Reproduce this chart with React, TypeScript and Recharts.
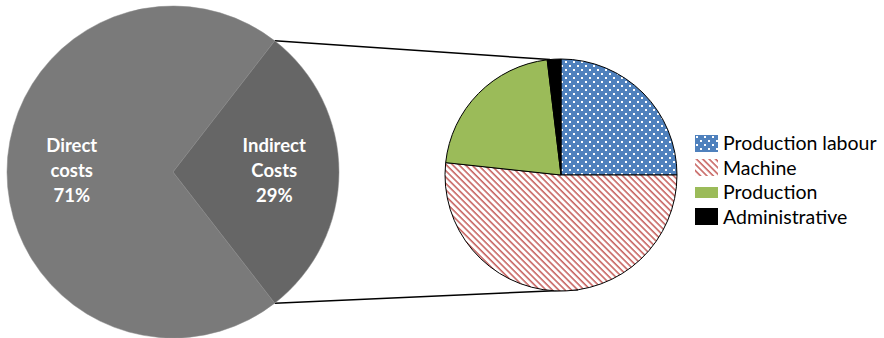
import { PieChart, Pie, Cell, Legend, Customized } from "recharts";

const mainNames = ["Direct costs", "Indirect Costs"];
const mainShares = [71, 29];
const splitNames = ["Production labour", "Machine", "Production", "Administrative"];
const splitShares = [25, 51.7, 21.4, 1.9];

const MAIN = { cx: 173, cy: 172, r: 166 };
const SPLIT = { cx: 561, cy: 175, r: 116 };
const RAD = Math.PI / 180;

const mainData = mainNames.map((name, i) => ({ name, value: mainShares[i] }));
const splitData = splitNames.map((name, i) => ({ name, value: splitShares[i] }));

const mainFills = ["#7a7a7a", "#666666"];
const splitFills = ["url(#dotFill)", "url(#hatchFill)", "#9bbb59", "#000000"];

// the indirect slice sits centred on the right side of the main pie
const halfIndirect = (mainShares[1] / 100) * 180;

function polar(c: { cx: number; cy: number; r: number }, deg: number) {
  return { x: c.cx + c.r * Math.cos(-deg * RAD), y: c.cy + c.r * Math.sin(-deg * RAD) };
}

function SeriesLines() {
  const a1 = polar(MAIN, halfIndirect);
  const a2 = polar(MAIN, -halfIndirect);
  const b1 = polar(SPLIT, 95.5);
  const b2 = polar(SPLIT, -81.5);
  return (
    <g stroke="#000" strokeWidth={1.5}>
      <line x1={a1.x} y1={a1.y} x2={b1.x} y2={b1.y} />
      <line x1={a2.x} y1={a2.y} x2={b2.x} y2={b2.y} />
    </g>
  );
}

function renderMainLabel(props: any) {
  const { cx, cy, midAngle, outerRadius, name, value } = props;
  const x = cx + outerRadius * 0.61 * Math.cos(-midAngle * RAD);
  const y = cy - 2 + outerRadius * 0.61 * Math.sin(-midAngle * RAD);
  const lines = [...String(name).split(" "), `${value}%`];
  return (
    <text
      x={x}
      y={y}
      fill="#fff"
      fontFamily="Lato, sans-serif"
      fontWeight={700}
      fontSize={18.5}
      textAnchor="middle"
    >
      {lines.map((t, i) => (
        <tspan key={i} x={x} y={y + (i - 1) * 25} dominantBaseline="central">
          {t}
        </tspan>
      ))}
    </text>
  );
}

function LegendBox() {
  return (
    <div style={{ fontFamily: "Lato, sans-serif", fontSize: 19.5, color: "#000" }}>
      {splitNames.map((name, i) => (
        <div key={name} style={{ display: "flex", alignItems: "center", height: 24.5 }}>
          <svg width={23} height={17} style={{ marginRight: 5 }}>
            <rect
              x={0}
              y={i === 2 ? 3 : 0}
              width={23}
              height={i === 2 ? 11 : 17}
              fill={splitFills[i]}
            />
          </svg>
          <span style={{ lineHeight: "24px" }}>{name}</span>
        </div>
      ))}
    </div>
  );
}

export default function App() {
  return (
    <div style={{ position: "absolute", left: 0, top: 0, width: 884, height: 338, background: "#fff" }}>
      <PieChart width={884} height={338} margin={{ top: 0, right: 0, bottom: 0, left: 0 }}>
        <defs>
          <pattern id="dotFill" width={8} height={8} patternUnits="userSpaceOnUse">
            <rect width={8} height={8} fill="#4f81bd" />
            <rect x={1} y={1} width={2} height={2} fill="#fff" />
            <rect x={5} y={5} width={2} height={2} fill="#fff" />
          </pattern>
          <pattern
            id="hatchFill"
            width={4.5}
            height={4.5}
            patternUnits="userSpaceOnUse"
            patternTransform="rotate(-45)"
          >
            <rect width={4.5} height={4.5} fill="#fff" />
            <line x1={1} y1={0} x2={1} y2={4.5} stroke="#c0504d" strokeWidth={1.4} />
          </pattern>
        </defs>
        <Pie
          data={mainData}
          dataKey="value"
          nameKey="name"
          cx={MAIN.cx}
          cy={MAIN.cy}
          outerRadius={MAIN.r}
          startAngle={halfIndirect}
          endAngle={halfIndirect + 360}
          stroke="#8a8a8a"
          strokeWidth={0.5}
          label={renderMainLabel}
          labelLine={false}
          isAnimationActive={false}
          legendType="none"
        >
          {mainData.map((d, i) => (
            <Cell key={d.name} fill={mainFills[i]} />
          ))}
        </Pie>
        <Pie
          data={splitData}
          dataKey="value"
          nameKey="name"
          cx={SPLIT.cx}
          cy={SPLIT.cy}
          outerRadius={SPLIT.r}
          startAngle={90}
          endAngle={-270}
          stroke="#000"
          strokeWidth={1}
          isAnimationActive={false}
        >
          {splitData.map((d, i) => (
            <Cell key={d.name} fill={splitFills[i]} />
          ))}
        </Pie>
        <Customized component={<SeriesLines />} />
        <Legend
          content={() => <LegendBox />}
          wrapperStyle={{ position: "absolute", left: 695, top: 131, width: 190, bottom: "auto" }}
        />
      </PieChart>
    </div>
  );
}
